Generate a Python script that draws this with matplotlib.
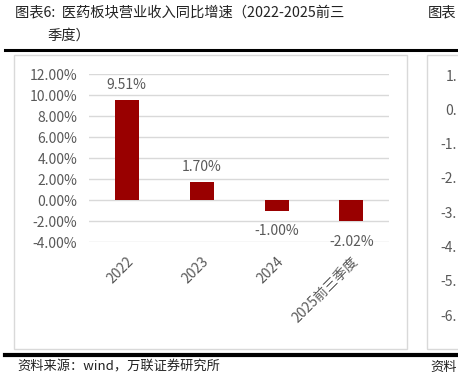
import matplotlib
matplotlib.use("Agg")
import matplotlib.pyplot as plt
from matplotlib.patches import Rectangle
from matplotlib.lines import Line2D

plt.rcParams['font.family'] = ['Noto Sans CJK SC', 'DejaVu Sans']
plt.rcParams['axes.unicode_minus'] = False

# data
categories = ["2022", "2023", "2024", "2025前三季度"]
growth = [9.51, 1.70, -1.00, -2.02]
y_ticks = [-4, -2, 0, 2, 4, 6, 8, 10, 12]
# right-hand neighbour chart: only the start of its tick labels is visible
right_ticks = [1, 0, -1, -2, -3, -4, -5, -6]

TITLE_1 = "图表6:  医药板块营业收入同比增速（2022-2025前三"
TITLE_2 = "季度）"
SOURCE = "资料来源：wind，万联证券研究所"

BAR = '#990000'
GRID = '#d9d9d9'
TXT = '#595959'
W, H = 458, 383


def fx(px):
    return px / W


def fy(py):
    return 1 - py / H


fig = plt.figure(figsize=(W / 100, H / 100), dpi=100)

# titles
fig.text(fx(15), fy(12), TITLE_1, ha='left', va='center', fontsize=10.3, color='#222222')
fig.text(fx(47), fy(36), TITLE_2, ha='left', va='center', fontsize=10.3, color='#222222')
fig.text(fx(428), fy(12), "图表", ha='left', va='center', fontsize=10.3, color='#222222')

# thick rules
fig.add_artist(Line2D([fx(5), 1], [fy(50), fy(50)], color='black', lw=2.2))
fig.add_artist(Line2D([fx(5), 1], [fy(354.5), fy(354.5)], color='black', lw=3))

# chart frames
fig.add_artist(Rectangle((fx(14), fy(349)), fx(407 - 14), (349 - 55) / H,
                         fill=False, ec='#d9d9d9', lw=1.0))
fig.add_artist(Rectangle((fx(427), fy(349)), fx(60), (349 - 55) / H,
                         fill=False, ec='#d9d9d9', lw=1.0))

# main axes
ax = fig.add_axes([fx(89), fy(242), fx(300), 168 / H])
x = range(len(categories))
ax.bar(x, growth, width=0.32, color=BAR, zorder=3)
ax.set_xlim(-0.5, len(categories) - 0.5)
ax.set_ylim(-4, 12)
ax.set_yticks(y_ticks)
ax.set_yticklabels([f"{v:.2f}%" for v in y_ticks])
ax.yaxis.grid(True, color=GRID, lw=1.0)
ax.set_axisbelow(True)
for s in ax.spines.values():
    s.set_visible(False)
ax.tick_params(axis='y', length=0, pad=8.5, labelsize=10, labelcolor=TXT)
ax.tick_params(axis='x', length=0, pad=9, labelsize=10, labelcolor=TXT)
ax.set_xticks(list(x))
ax.set_xticklabels(categories, rotation=45, ha='right', rotation_mode='anchor')

for i, v in enumerate(growth):
    if v >= 0:
        ax.annotate(f"{v:.2f}%", (i, v), xytext=(0, 6), textcoords='offset points',
                    ha='center', va='bottom', fontsize=10, color=TXT, clip_on=False)
    else:
        ax.annotate(f"{v:.2f}%", (i, v), xytext=(0, -10), textcoords='offset points',
                    ha='center', va='top', fontsize=10, color=TXT, clip_on=False)

# neighbouring chart: tick labels cut by the page edge
ax2 = fig.add_axes([fx(457), fy(315), 0.01, (315 - 75) / H])
ax2.set_ylim(-6, 1)
ax2.set_yticks(right_ticks)
ax2.set_yticklabels([f"{v}." for v in right_ticks])
ax2.set_xticks([])
ax2.tick_params(axis='y', length=0, pad=0, labelsize=10, labelcolor=TXT)
for s in ax2.spines.values():
    s.set_visible(False)
ax2.patch.set_visible(False)

# source notes
fig.text(fx(17), fy(367), SOURCE, ha='left', va='center', fontsize=9.5,
         color='#222222', style='italic')
fig.text(fx(430), fy(367), "资料", ha='left', va='center', fontsize=9.5,
         color='#222222', style='italic')

fig.savefig("out.png", dpi=100)
